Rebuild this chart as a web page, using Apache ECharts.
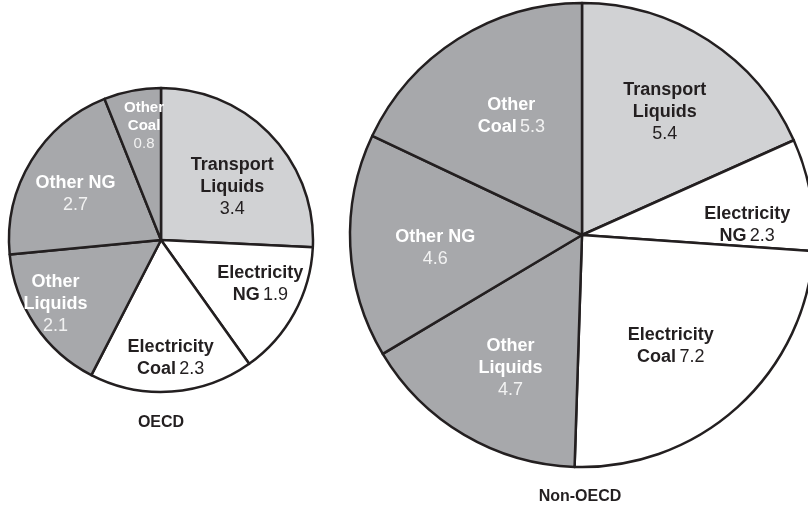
<!DOCTYPE html>
<html>
<head>
<meta charset="utf-8">
<script src="https://cdn.jsdelivr.net/npm/echarts@6/dist/echarts.min.js"></script>
<style>
  html, body { margin: 0; padding: 0; background: #fff; }
  #chart { width: 808px; height: 509px; }
</style>
</head>
<body>
<div id="chart"></div>
<script>
// slices, clockwise from 12 o'clock
var categories = ['Transport Liquids', 'Electricity NG', 'Electricity Coal', 'Other Liquids', 'Other NG', 'Other Coal']
var oecdValues = [3.4, 1.9, 2.3, 2.1, 2.7, 0.8]
var nonOecdValues = [5.4, 2.3, 7.2, 4.7, 4.6, 5.3]
var pieTitles = ['OECD', 'Non-OECD']

// styling per slice
var sliceColors = ['#d1d2d4', '#ffffff', '#ffffff', '#a7a8ab', '#a7a8ab', '#a7a8ab']
var darkSlice = [false, false, false, true, true, true]
// value on same line as last word?
var oecdInline = [false, true, true, false, false, false]
var nonOecdInline = [false, true, true, false, false, true]
// nudges from the default inside label position
var oecdNudge = [[14, 2], [30, 6], [4, 39], [-40, 20], [-18, -5], [-2, -37]]
var nonOecdNudge = [[18, -23], [48, 11], [9, 23], [-11, 31], [-28, 7], [-7, -18]]

function labelText(name, value, inline, small, onDark) {
  var words = name === 'Other NG' ? [name] : name.split(' ')
  var nk = (onDark ? 'nw' : 'nd') + (small ? 's' : '')
  var vk = (onDark ? 'vw' : 'vd') + (small ? 's' : '')
  var lines = words.map(function (w) { return '{' + nk + '|' + w + '}' })
  var v = '{' + vk + '|' + value.toFixed(1) + '}'
  if (inline) lines[lines.length - 1] += ' ' + v
  else lines.push(v)
  return lines.join('\n')
}

function buildData(values) {
  return values.map(function (v, i) {
    return { name: categories[i], value: v, itemStyle: { color: sliceColors[i] } }
  })
}

var baseFont = '"Liberation Sans", Arial, Helvetica, sans-serif'
var rich = {
  nd: { fontFamily: baseFont, fontWeight: 'bold', fontSize: 18, lineHeight: 22, color: '#231f20' },
  vd: { fontFamily: baseFont, fontSize: 18, lineHeight: 22, color: '#231f20' },
  nw: { fontFamily: baseFont, fontWeight: 'bold', fontSize: 18, lineHeight: 22, color: '#ffffff' },
  vw: { fontFamily: baseFont, fontSize: 18, lineHeight: 22, color: '#f2f2f2' },
  nws: { fontFamily: baseFont, fontWeight: 'bold', fontSize: 15, lineHeight: 18, color: '#ffffff' },
  vws: { fontFamily: baseFont, fontSize: 15, lineHeight: 18, color: '#f2f2f2' }
}

function pieSeries(values, center, radius, inline, nudge, smallIdx) {
  return {
    type: 'pie',
    center: center,
    radius: radius,
    startAngle: 90,
    clockwise: true,
    animation: false,
    silent: true,
    avoidLabelOverlap: false,
    itemStyle: { borderColor: '#231f20', borderWidth: 2.5 },
    label: {
      show: true,
      position: 'inside',
      fontFamily: baseFont,
      rich: rich,
      formatter: function (p) {
        var i = p.dataIndex
        return labelText(p.name, p.value, inline[i], i === smallIdx, darkSlice[i])
      }
    },
    labelLine: { show: false },
    labelLayout: function (p) {
      return { dx: nudge[p.dataIndex][0], dy: nudge[p.dataIndex][1] }
    },
    data: buildData(values)
  }
}

var option = {
  backgroundColor: '#ffffff',
  series: [
    pieSeries(oecdValues, [161, 240], 152, oecdInline, oecdNudge, 5),
    pieSeries(nonOecdValues, [582, 235], 232, nonOecdInline, nonOecdNudge, -1)
  ],
  graphic: [
    { type: 'text', x: 161, y: 423, style: { text: pieTitles[0], textAlign: 'center', textVerticalAlign: 'middle', font: 'bold 16px ' + baseFont, fill: '#231f20' } },
    { type: 'text', x: 580, y: 497, style: { text: pieTitles[1], textAlign: 'center', textVerticalAlign: 'middle', font: 'bold 16px ' + baseFont, fill: '#231f20' } }
  ]
}

var chart = echarts.init(document.getElementById('chart'))
chart.setOption(option)
</script>
</body>
</html>
